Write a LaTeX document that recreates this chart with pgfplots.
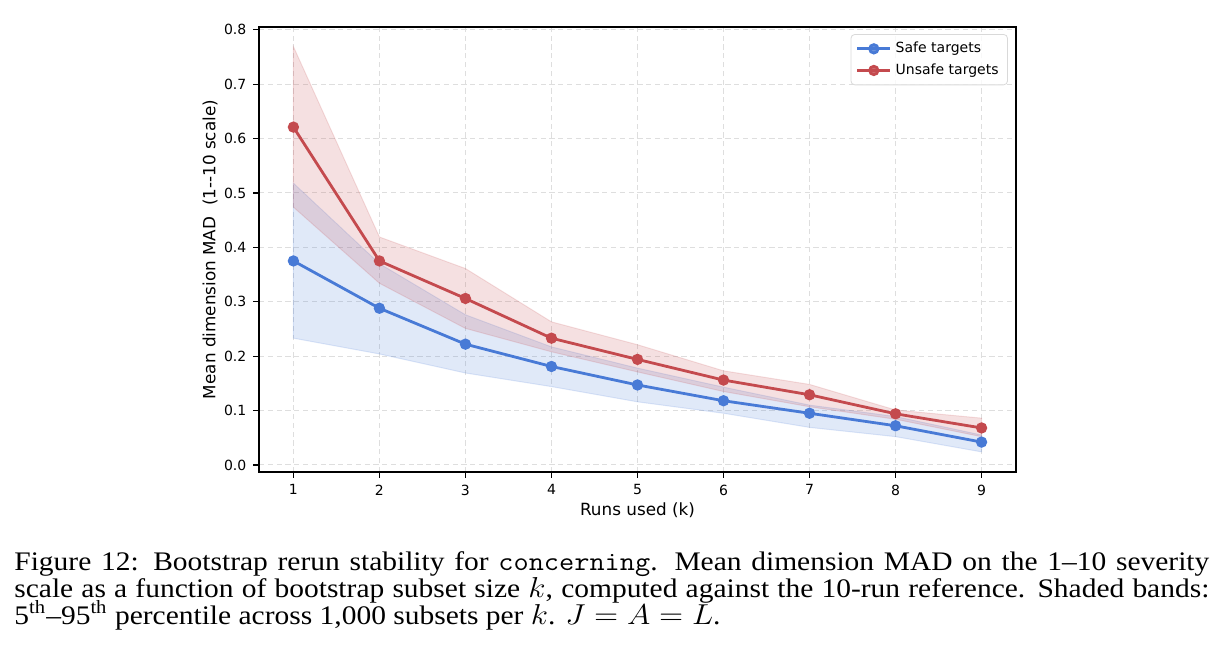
\documentclass[border=0pt]{standalone}
\usepackage{fontspec}
\setmainfont{Liberation Serif}
\newfontfamily\dejavu{DejaVu Sans}
\usepackage{graphicx}
\usepackage{pgfplots}
\usepackage{pgfplotstable}
\pgfplotsset{compat=1.18}
\usepgfplotslibrary{fillbetween}

\definecolor{safeblue}{RGB}{72,122,214}
\definecolor{unsafered}{RGB}{196,74,78}
\definecolor{gridgray}{RGB}{222,222,222}

% Bootstrap MAD per subset size k: mean and 5th/95th percentiles
\pgfplotstableread{
k safe  safelo safehi unsafe unsafelo unsafehi
1 0.375 0.233  0.518  0.621  0.474    0.769
2 0.288 0.204  0.370  0.375  0.334    0.419
3 0.222 0.169  0.276  0.306  0.251    0.361
4 0.181 0.144  0.217  0.233  0.208    0.263
5 0.147 0.116  0.178  0.194  0.171    0.221
6 0.118 0.095  0.143  0.156  0.135    0.173
7 0.095 0.069  0.110  0.129  0.107    0.148
8 0.072 0.052  0.089  0.094  0.084    0.101
9 0.042 0.024  0.055  0.068  0.052    0.086
}\madtable

\newcommand{\capfont}{\fontsize{13.4pt}{13.4pt}\selectfont}
\newcommand{\tickfont}{\dejavu\fontsize{7}{8.4}\selectfont}
\newcommand{\labfont}{\dejavu\fontsize{8.4}{10}\selectfont}

\begin{document}
\begin{tikzpicture}
\begin{axis}[
  at={(129.5pt,-236pt)}, anchor=south west,
  scale only axis, width=378.5pt, height=222.5pt,
  xmin=0.6, xmax=9.4, ymin=-0.013, ymax=0.805,
  xtick={1,2,3,4,5,6,7,8,9},
  ytick={0,0.1,0.2,0.3,0.4,0.5,0.6,0.7,0.8},
  yticklabel style={/pgf/number format/.cd, fixed, fixed zerofill, precision=1},
  /pgf/number format/assume math mode=true,
  tick label style={font=\tickfont},
  tick align=outside, major tick length=2.8pt,
  tick style={line width=0.6pt, black},
  axis line style={line width=0.65pt},
  xtick pos=bottom, ytick pos=left,
  grid=major,
  major grid style={gridgray, dash pattern=on 2.6pt off 1.8pt, line width=0.45pt},
  xlabel={Runs used (k)},
  ylabel={Mean dimension MAD\ \ (1--10 scale)},
  every axis x label/.style={at={(axis description cs:0.5,0)}, yshift=-19pt, anchor=center, font=\labfont},
  every axis y label/.style={at={(axis description cs:0,0.5)}, xshift=-24.5pt, rotate=90, anchor=center, font=\labfont},
  legend style={at={(1,1)}, anchor=north east, xshift=-4pt, yshift=-3.5pt,
    draw=gray!30, rounded corners=2pt, fill=white, fill opacity=0.8, text opacity=1,
    font=\tickfont, cells={anchor=west},
    inner xsep=2.5pt, inner ysep=1.8pt, row sep=0pt},
  legend image code/.code={\draw[mark repeat=2, mark phase=2, #1, line width=1.4pt] plot coordinates {(0pt,0pt) (8.25pt,0pt) (16.5pt,0pt)};},
]
% safe targets: band then line
\addplot[name path=safehi, draw=none, forget plot] table[x=k, y=safehi] {\madtable};
\addplot[name path=safelo, draw=none, forget plot] table[x=k, y=safelo] {\madtable};
\addplot[fill=safeblue, draw=safeblue, line width=0.5pt, opacity=0.17, forget plot] fill between[of=safehi and safelo];
\addplot[safeblue, line width=1.4pt, mark=*, mark size=2.1pt, mark options={solid}] table[x=k, y=safe] {\madtable};
\addlegendentry{Safe targets}
% unsafe targets: band then line
\addplot[name path=unsafehi, draw=none, forget plot] table[x=k, y=unsafehi] {\madtable};
\addplot[name path=unsafelo, draw=none, forget plot] table[x=k, y=unsafelo] {\madtable};
\addplot[fill=unsafered, draw=unsafered, line width=0.5pt, opacity=0.17, forget plot] fill between[of=unsafehi and unsafelo];
\addplot[unsafered, line width=1.4pt, mark=*, mark size=2.1pt, mark options={solid}] table[x=k, y=unsafe] {\madtable};
\addlegendentry{Unsafe targets}
\end{axis}
% caption, set slightly wide
\node[anchor=base west, inner sep=0pt] at (7pt,-285.2pt) {\capfont\scalebox{1.1}[1]{\makebox[543.2pt][s]{Figure 12: Bootstrap rerun stability for \texttt{concerning}. Mean dimension MAD on the 1--10 severity}}};
\node[anchor=base west, inner sep=0pt] at (7pt,-298.7pt) {\capfont\scalebox{1.1}[1]{\makebox[543.2pt][s]{scale as a function of bootstrap subset size $k$, computed against the 10-run reference. Shaded bands:}}};
\node[anchor=base west, inner sep=0pt] at (7pt,-312.2pt) {\capfont\scalebox{1.1}[1]{5\textsuperscript{th}--95\textsuperscript{th} percentile across 1,000 subsets per $k$. $J = A = L$.}};
% page frame
\pgfresetboundingbox
\path[use as bounding box] (0pt,0pt) rectangle (611.5pt,-330.5pt);
\end{tikzpicture}
\end{document}
